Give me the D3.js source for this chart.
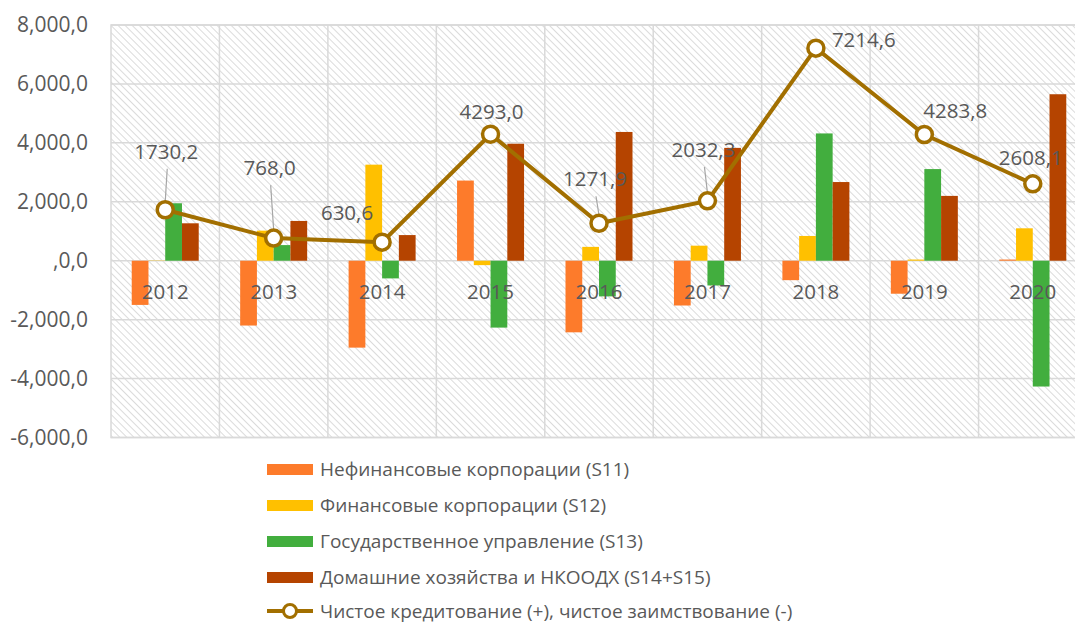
<!DOCTYPE html>
<html>
<head>
<meta charset="utf-8">
<script src="https://cdn.jsdelivr.net/npm/d3@7"></script>
<style>
  body { margin: 0; background: #fff; }
  text { font-family: "Open Sans", "Noto Sans", sans-serif; fill: #595959; }
</style>
</head>
<body>
<div id="chart"></div>
<script>
const years = ["2012", "2013", "2014", "2015", "2016", "2017", "2018", "2019", "2020"];
const seriesNames = [
  "Нефинансовые корпорации (S11)",
  "Финансовые корпорации (S12)",
  "Государственное управление (S13)",
  "Домашние хозяйства и НКООДХ (S14+S15)"
];
const s11 = [-1500, -2200, -2950, 2720, -2430, -1520, -660, -1120, 40];
const s12 = [10, 1020, 3260, -150, 470, 510, 840, 40, 1100];
const s13 = [1950, 530, -600, -2270, -1210, -840, 4320, 3110, -4270];
const s14 = [1270, 1350, 870, 3970, 4370, 3830, 2670, 2200, 5650];
const netLending = [1730.2, 768.0, 630.6, 4293.0, 1271.9, 2032.3, 7214.6, 4283.8, 2608.1];
const lineName = "Чистое кредитование (+), чистое заимствование (-)";
const yTicks = [8000, 6000, 4000, 2000, 0, -2000, -4000, -6000];
const yTickLabels = ["8,000,0", "6,000,0", "4,000,0", "2,000,0", ",0,0", "-2,000,0", "-4,000,0", "-6,000,0"];
const colors = ["#FD7B2B", "#FFC000", "#42AE3E", "#B54400"];
const lineColor = "#A26F00";
// label baseline offsets relative to the marker [dx, dy, anchor, leader]
const labelPos = [
  [1, -51, "middle", true], [-4, -63, "middle", true], [-9, -22, "end", false],
  [1, -15, "middle", false], [-4, -37, "middle", true], [-4, -44, "middle", true],
  [16, -1, "start", false], [-1, -16, "start", false], [-2, -19, "middle", false]
];

const W = 1075, H = 625;
const svg = d3.select("#chart").append("svg").attr("width", W).attr("height", H);

const mLeft = 111, mRight = 1087, mTop = 25, mBottom = 437.5;
const x = d3.scaleBand().domain(years).range([mLeft, mRight]);
const y = d3.scaleLinear().domain([-6000, 8000]).range([mBottom, mTop]);
const xs = d3.scaleBand().domain(d3.range(4)).range([-33.5, 33.5]);

// hatched background
const defs = svg.append("defs");
const pat = defs.append("pattern").attr("id", "hatch").attr("patternUnits", "userSpaceOnUse")
  .attr("width", 5).attr("height", 5).attr("patternTransform", "rotate(-45)");
pat.append("rect").attr("width", 5).attr("height", 5).attr("fill", "#fff");
pat.append("line").attr("x1", 0).attr("y1", 0).attr("x2", 0).attr("y2", 5)
  .attr("stroke", "#d2d2d2").attr("stroke-width", 1.6);

svg.append("rect").attr("x", mLeft).attr("y", mTop).attr("width", mRight - mLeft).attr("height", mBottom - mTop)
  .attr("fill", "url(#hatch)").attr("stroke", "#d9d9d9").attr("stroke-width", 1.5);

// gridlines
svg.append("g").selectAll("line").data(yTicks).join("line")
  .attr("x1", mLeft).attr("x2", mRight).attr("y1", d => y(d)).attr("y2", d => y(d))
  .attr("stroke", "#d9d9d9").attr("stroke-width", 1.5);
svg.append("g").selectAll("line").data(years.slice(1)).join("line")
  .attr("x1", d => x(d)).attr("x2", d => x(d)).attr("y1", mTop).attr("y2", mBottom)
  .attr("stroke", "#d9d9d9").attr("stroke-width", 1.5);

// y axis labels
svg.append("g").selectAll("text").data(yTicks).join("text")
  .attr("x", 88).attr("y", d => y(d)).attr("dy", "0.35em")
  .attr("text-anchor", "end").style("font-size", "21px")
  .text((d, i) => yTickLabels[i]);

// bars
const allSeries = [s11, s12, s13, s14];
allSeries.forEach((vals, si) => {
  svg.append("g").selectAll("rect").data(vals).join("rect")
    .attr("x", (d, i) => x(years[i]) + x.bandwidth() / 2 + xs(si))
    .attr("width", xs.bandwidth())
    .attr("y", d => y(Math.max(0, d)))
    .attr("height", d => Math.abs(y(d) - y(0)))
    .attr("fill", colors[si]);
});

// category labels next to axis
svg.append("g").selectAll("text").data(years).join("text")
  .attr("x", d => x(d) + x.bandwidth() / 2).attr("y", y(0) + 38)
  .attr("text-anchor", "middle").style("font-size", "20.5px")
  .text(d => d);

// line
const cx = i => x(years[i]) + x.bandwidth() / 2;
const line = d3.line().x((d, i) => cx(i)).y(d => y(d));
svg.append("path").datum(netLending).attr("d", line)
  .attr("fill", "none").attr("stroke", lineColor).attr("stroke-width", 4);

// leader lines and labels
netLending.forEach((v, i) => {
  const p = labelPos[i];
  const lx = cx(i) + p[0], ly = y(v) + p[1];
  if (p[3]) {
    svg.append("line").attr("x1", lx + 1).attr("y1", ly + 10)
      .attr("x2", cx(i)).attr("y2", y(v) - 8)
      .attr("stroke", "#a6a6a6").attr("stroke-width", 1.2);
  }
  svg.append("text").attr("x", lx).attr("y", ly).attr("text-anchor", p[2])
    .style("font-size", "20.5px").text(d3.format(".1f")(v).replace(".", ","));
});

svg.append("g").selectAll("circle").data(netLending).join("circle")
  .attr("cx", (d, i) => cx(i)).attr("cy", d => y(d)).attr("r", 8)
  .attr("fill", "#fff").attr("stroke", lineColor).attr("stroke-width", 3.5);

// legend
const lg = svg.append("g");
const rowY = [469, 505, 541, 577, 611];
seriesNames.forEach((n, i) => {
  lg.append("rect").attr("x", 267).attr("y", rowY[i] - 5).attr("width", 46).attr("height", 11).attr("fill", colors[i]);
  lg.append("text").attr("x", 320).attr("y", rowY[i]).attr("dy", "0.35em").style("font-size", "19px").text(n);
});
lg.append("line").attr("x1", 267).attr("x2", 313).attr("y1", rowY[4]).attr("y2", rowY[4])
  .attr("stroke", lineColor).attr("stroke-width", 4);
lg.append("circle").attr("cx", 290).attr("cy", rowY[4]).attr("r", 6.5)
  .attr("fill", "#fff").attr("stroke", lineColor).attr("stroke-width", 3);
lg.append("text").attr("x", 320).attr("y", rowY[4]).attr("dy", "0.35em").style("font-size", "19px").text(lineName);
</script>
</body>
</html>
